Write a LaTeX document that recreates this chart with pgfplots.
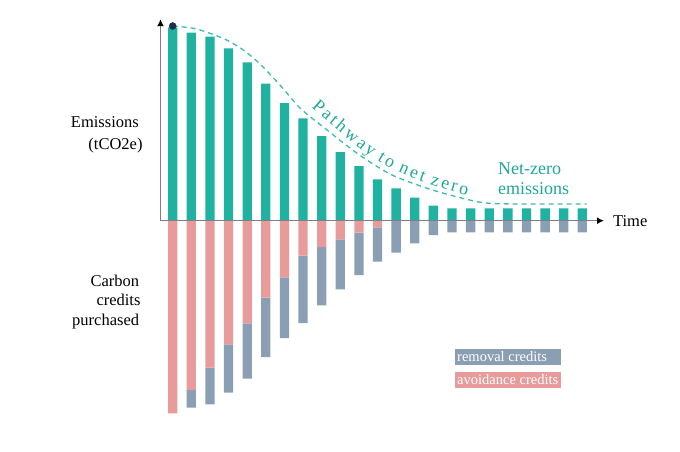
\documentclass[border=0pt]{standalone}
\usepackage{pgfplots}
\pgfplotsset{compat=1.18}
\usepackage{pgfplotstable}
\usepackage{fontspec}
\setmainfont{Liberation Serif}
\usetikzlibrary{arrows.meta,decorations.text}

\definecolor{emis}{HTML}{20B2A0}
\definecolor{avoid}{HTML}{E89B9B}
\definecolor{remov}{HTML}{8A9EB4}
\definecolor{pathc}{HTML}{3BBCAC}
\definecolor{tealtext}{HTML}{1FA896}
\definecolor{navy}{HTML}{1C2B4F}
\definecolor{axgray}{HTML}{7F7F7F}

\pgfplotstableread{
i emis avoid removal
1 193.4 -192.6 0
2 188.0 -169.3 -17.7
3 184.0 -147.0 -36.6
4 172.4 -123.6 -48.4
5 158.4 -102.6 -55.4
6 137.0 -77.0 -59.3
7 117.7 -56.6 -60.7
8 102.4 -35.0 -67.3
9 84.7 -26.3 -58.3
10 68.7 -18.6 -50.0
11 54.7 -12.0 -42.3
12 41.4 -6.6 -34.4
13 32.4 0 -32.0
14 23.0 0 -22.6
15 15.0 0 -14.3
16 12.4 0 -11.6
17 12.4 0 -11.6
18 12.4 0 -11.6
19 12.4 0 -11.6
20 12.4 0 -11.6
21 12.4 0 -11.6
22 12.4 0 -11.6
23 12.4 0 -11.6
}\bars

\pgfplotsset{base/.style={scale only axis, width=680pt, height=451pt,
  xmin=-8.275, xmax=28.245, ymin=-230.3, ymax=220.7,
  axis line style={draw=none}, ticks=none, clip=false, bar width=9.3pt}}

\begin{document}
\begin{tikzpicture}
\begin{axis}[base, ybar stacked]
\addplot[fill=avoid, draw=none] table[x=i,y=avoid]{\bars};
\addplot[fill=remov, draw=none] table[x=i,y=removal]{\bars};
\end{axis}
\begin{axis}[base]
\path (rel axis cs:0,0) rectangle (rel axis cs:1,1);
\addplot[ybar, fill=emis, draw=none] table[x=i,y=emis]{\bars};
\addplot[pathc, dash pattern=on 5pt off 4pt, line width=1.3pt, smooth, tension=0.5] coordinates {
(1,194.7) (2.106,192.4) (3.003,187.4) (3.900,180.7) (4.792,170.7) (5.689,156.7)
(6.763,135.7) (7.837,112.7) (9.088,93.7) (10.882,67.7) (12.670,46.7) (14.459,33.7)
(15.893,25.7) (17.681,18) (19.652,16.7) (23.234,16.7)};
\addplot[only marks, mark=*, mark size=3.5pt, navy] coordinates {(1,194.7)};
\draw[axgray, line width=1.4pt, {Latex[length=7pt,width=7pt,color=black]}-{Latex[length=7pt,width=7pt,color=black]}]
  (axis cs:24.163,0) -- (axis cs:0.345,0) -- (axis cs:0.345,201.5);
\path[decorate, decoration={text along path, text color=tealtext,
  text={|\fontsize{18}{20}\selectfont|{P\kern2.6pt}{a\kern2.6pt}{t\kern2.6pt}{h\kern2.6pt}{w\kern2.6pt}{a\kern2.6pt}{y\kern2.6pt} {t\kern2.6pt}{o\kern2.6pt} {n\kern2.6pt}{e\kern2.6pt}{t\kern2.6pt} {z\kern2.6pt}{e\kern2.6pt}{r\kern2.6pt}{o}}}]
  plot[smooth, tension=0.5] coordinates {(axis cs:8.45,113.2) (axis cs:9.985,88.2) (axis cs:11.596,64.7) (axis cs:12.778,51.7) (axis cs:14.067,41.2) (axis cs:16.000,29.2) (axis cs:17.504,23.2) (axis cs:19.652,20.7)};
\node[anchor=base east, inner sep=0pt, font=\fontsize{16.5}{19}\selectfont] at (axis cs:-0.810,93.4) {Emissions};
\node[anchor=base east, inner sep=0pt, font=\fontsize{16.5}{19}\selectfont] at (axis cs:-0.611,71.4) {(tCO2e)};
\node[anchor=base east, inner sep=0pt, font=\fontsize{16.5}{19}\selectfont] at (axis cs:-0.793,-65.3) {Carbon};
\node[anchor=base east, inner sep=0pt, font=\fontsize{16.5}{19}\selectfont] at (axis cs:-0.719,-84.3) {credits};
\node[anchor=base east, inner sep=0pt, font=\fontsize{16.5}{19}\selectfont] at (axis cs:-0.793,-104.3) {purchased};
\node[anchor=base west, inner sep=0pt, font=\fontsize{16.5}{19}\selectfont] at (axis cs:24.64,-6) {Time};
\node[anchor=base west, inner sep=0pt, text=tealtext, font=\fontsize{18}{20}\selectfont] at (axis cs:18.47,46.7) {Net-zero};
\node[anchor=base west, inner sep=0pt, text=tealtext, font=\fontsize{18}{20}\selectfont] at (axis cs:18.47,26.4) {emissions};
\node[anchor=west, fill=remov, text=white, inner xsep=2pt, inner ysep=0pt, minimum height=16pt, font=\fontsize{14.5}{16}\selectfont] at (axis cs:16.161,-136.3) {\makebox[102pt][l]{removal credits}};
\node[anchor=west, fill=avoid, text=white, inner xsep=2pt, inner ysep=0pt, minimum height=16pt, font=\fontsize{14.5}{16}\selectfont] at (axis cs:16.161,-159.3) {\makebox[102pt][l]{avoidance credits}};
\end{axis}
\end{tikzpicture}
\end{document}
